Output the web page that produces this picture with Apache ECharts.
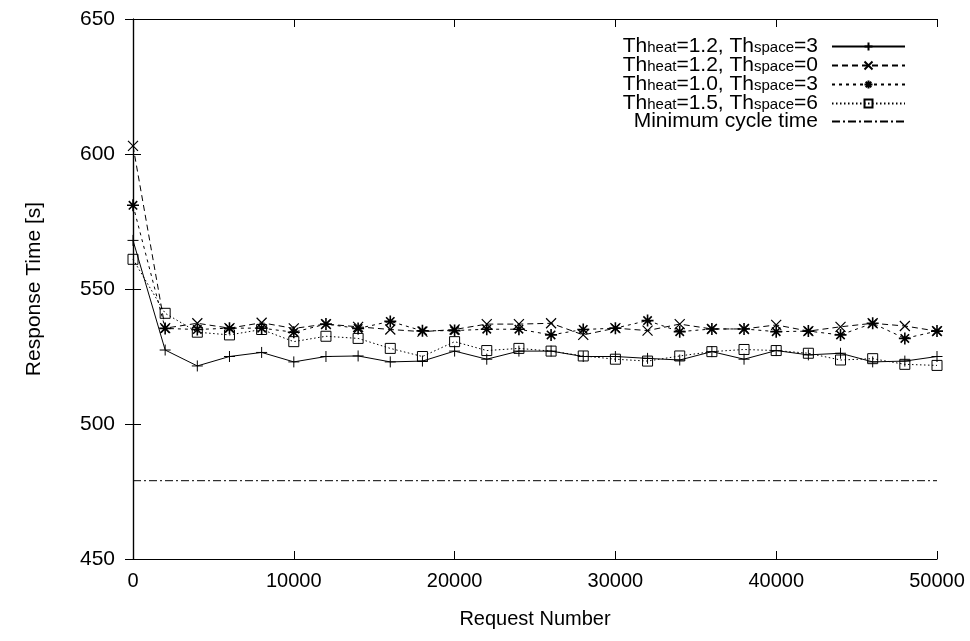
<!DOCTYPE html>
<html>
<head>
<meta charset="utf-8">
<script src="https://cdn.jsdelivr.net/npm/echarts@6/dist/echarts.min.js"></script>
<style>html,body{margin:0;padding:0;background:#fff}#c{width:970px;height:641px}</style>
</head>
<body>
<div id="c"></div>
<script>
const requestNumbers = [0,2000,4000,6000,8000,10000,12000,14000,16000,18000,20000,22000,24000,26000,28000,30000,32000,34000,36000,38000,40000,42000,44000,46000,48000,50000];
const heat12space3 = [568,527.4,521.5,525,526.5,523,525,525.2,523,523.3,527,524,527,527,525,525,524.3,523.7,526.8,524,527.2,525.6,526.2,523,523.3,525];
const heat12space0 = [603,535.5,537.3,535.5,537.5,535.4,537,536,535,534.2,535,537,537,537.3,533,535.5,534.6,537,535.2,535.2,536.7,534.4,536,537.3,536.3,534.4];
const heat10space3 = [581,535.4,535,535.5,535.5,534,537,535.4,538,534.5,534.6,535.1,535.1,533,535,535.5,538.3,534.2,535.2,535.2,534.2,534.4,533,537.3,531.7,534.4];
const heat15space6 = [561,541,534,533,535,530.5,532.5,531.7,528,525,530.5,527.2,528,527,525.2,524,523.3,525.2,526.8,527.6,527.2,526.2,523.7,524.2,522.1,521.7];
const minimumCycleTime = 479;
const seriesNames = ['Th{s|heat}=1.2, Th{s|space}=3','Th{s|heat}=1.2, Th{s|space}=0','Th{s|heat}=1.0, Th{s|space}=3','Th{s|heat}=1.5, Th{s|space}=6','Minimum cycle time'];
const xTicks = {min:0, max:50000, interval:10000};
const yTicks = {min:450, max:650, interval:50};

const FONT = "'Liberation Sans Narrow','Arial Narrow','Liberation Sans',Arial,sans-serif";
const pairs = arr => requestNumbers.map((x,i)=>[x,arr[i]]);
const PLUS = 'path://M5,0L5,10M0,5L10,5';
const CROSS = 'path://M0,0L10,10M10,0L0,10';
const STAR = 'path://M5,0L5,10M0,5L10,5M1.5,1.5L8.5,8.5M8.5,1.5L1.5,8.5';

function lineSeries(name, data, symbol, size, dash, width){
  return {
    name, type:'line', data: pairs(data), symbol, symbolSize:size,
    lineStyle:{color:'#000', width:1, type:dash},
    itemStyle:{color: symbol==='rect' ? 'transparent' : '#000', borderColor:'#000', borderWidth:width},
    animation:false, z:3
  };
}

const chart = echarts.init(document.getElementById('c'), null, {renderer:'canvas'});
const axisCommon = {
  axisLine:{show:true, lineStyle:{color:'#000', width:1.2}},
  axisTick:{show:true, inside:true, length:8, lineStyle:{color:'#000', width:1}},
  splitLine:{show:false}
};
chart.setOption({
  backgroundColor:'#fff',
  animation:false,
  textStyle:{fontFamily:FONT, color:'#000'},
  grid:{left:133, right:33, top:19, bottom:82},
  legend:{
    orient:'vertical', right:59, top:30, align:'right',
    itemWidth:73, itemHeight:10, itemGap:-3,
    data:seriesNames,
    textStyle:{fontFamily:FONT, fontSize:21, color:'#000', lineHeight:17, padding:[0,9,0,0],
      rich:{s:{fontFamily:FONT, fontSize:15, verticalAlign:'bottom', lineHeight:13, padding:[5,0,0,0]}}}
  },
  xAxis:[
    Object.assign({type:'value', min:xTicks.min, max:xTicks.max, interval:xTicks.interval,
      name:'Request Number', nameLocation:'middle', nameGap:50,
      nameTextStyle:{fontFamily:FONT, fontSize:20, color:'#000'},
      axisLabel:{fontFamily:FONT, fontSize:20, color:'#000', margin:12, formatter: v => String(v)}}, axisCommon),
    Object.assign({type:'value', position:'top', min:xTicks.min, max:xTicks.max, interval:xTicks.interval,
      axisLabel:{show:false}}, axisCommon)
  ],
  yAxis:[
    Object.assign({type:'value', min:yTicks.min, max:yTicks.max, interval:yTicks.interval,
      name:'Response Time [s]', nameLocation:'middle', nameGap:88,
      nameTextStyle:{fontFamily:FONT, fontSize:21, color:'#000'},
      axisLabel:{fontFamily:FONT, fontSize:21, color:'#000', margin:18}}, axisCommon),
    Object.assign({type:'value', position:'right', min:yTicks.min, max:yTicks.max, interval:yTicks.interval,
      axisLabel:{show:false}}, axisCommon)
  ],
  series:[
    lineSeries(seriesNames[0], heat12space3, PLUS, 11, 'solid', 1),
    lineSeries(seriesNames[1], heat12space0, CROSS, 10, [6,4], 1.2),
    lineSeries(seriesNames[2], heat10space3, STAR, 12, [3,4], 1.6),
    lineSeries(seriesNames[3], heat15space6, 'rect', 10, [1.5,2.5], 1),
    {
      name:seriesNames[4], type:'line', symbol:'circle', symbolSize:0, showSymbol:false,
      data:[[xTicks.min, minimumCycleTime],[xTicks.max, minimumCycleTime]],
      lineStyle:{color:'#000', width:1, type:[8,3,2,3]},
      itemStyle:{color:'transparent', borderWidth:0}, animation:false
    }
  ]
});
</script>
</body>
</html>
